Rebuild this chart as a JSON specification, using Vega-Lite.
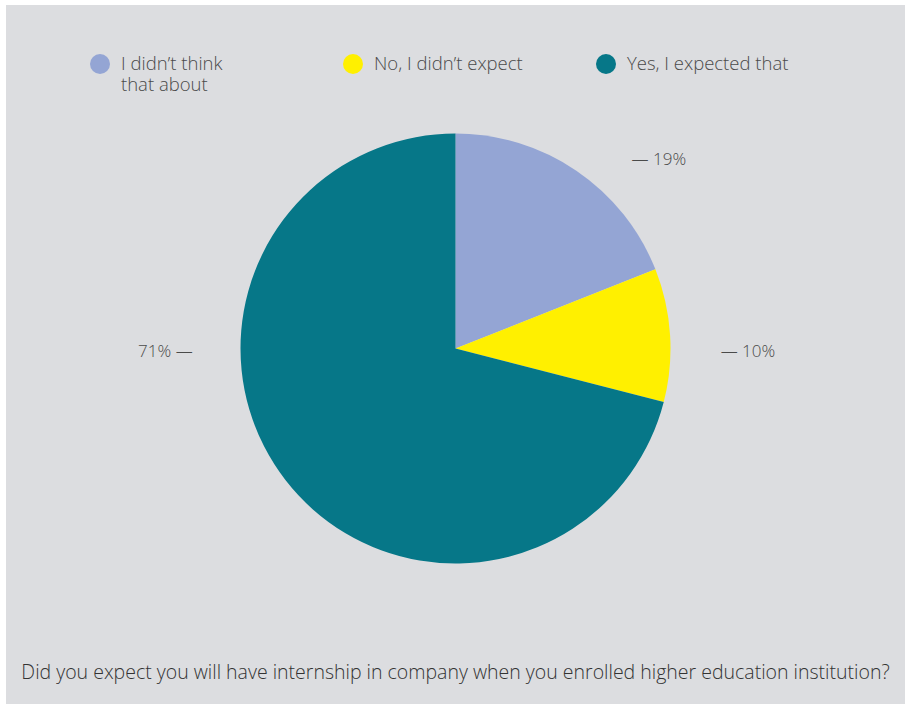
{
  "$schema": "https://vega.github.io/schema/vega-lite/v6.json",
  "autosize": {"type": "fit", "contains": "padding"},
  "width": 907,
  "height": 708,
  "padding": {"left": 6, "top": 5, "right": 2, "bottom": 4},
  "background": "#ffffff",
  "view": {"fill": "#dcdde0", "stroke": null},
  "config": {
    "view": {"fill": "#dcdde0", "stroke": null},
    "font": "Open Sans"
  },
  "title": {
    "text": "Did you expect you will have internship in company when you enrolled higher education institution?",
    "orient": "bottom",
    "anchor": "middle",
    "offset": -40,
    "fontSize": 19.5,
    "fontWeight": 300,
    "color": "#333333",
    "font": "Open Sans"
  },
  "data": {
    "values": [
      {"answer": "I didn't think that about", "share": 19},
      {"answer": "No, I didn't expect", "share": 10},
      {"answer": "Yes, I expected that", "share": 71}
    ]
  },
  "encoding": {
    "theta": {"field": "share", "type": "quantitative", "stack": true},
    "color": {
      "field": "answer",
      "type": "nominal",
      "scale": {
        "domain": ["I didn't think that about", "No, I didn't expect", "Yes, I expected that"],
        "range": ["#94a5d4", "#fff000", "#067788"]
      },
      "legend": {
        "orient": "none",
        "legendX": 84,
        "legendY": 49,
        "direction": "horizontal",
        "columns": 3,
        "gridAlign": "all",
        "columnPadding": 60,
        "title": null,
        "symbolType": "circle",
        "symbolSize": 400,
        "symbolStrokeWidth": 0,
        "symbolOpacity": 1,
        "labelFontSize": 18.5,
        "labelFont": "Open Sans",
        "labelFontWeight": 300,
        "labelColor": "#4a4a4a",
        "labelOffset": 11,
        "labelLimit": 300,
        "labelExpr": "datum.label == \"I didn't think that about\" ? [\"I didn’t think\", \"that about\"] : [replace(datum.label, \"'\", \"’\"), \" \"]"
      }
    }
  },
  "layer": [
    {
      "mark": {"type": "arc", "outerRadius": 215, "yOffset": -6, "stroke": null}
    },
    {
      "mark": {"type": "text", "clip": true, "radius": 280, "dx": 46, "dy": 37, "fontSize": 17, "fontWeight": 300, "font": "Open Sans"},
      "encoding": {
        "color": {"value": "#4a4a4a"},
        "text": {"condition": {"test": "datum.answer == \"I didn't think that about\"", "value": "— 19%"}, "value": ""}
      }
    },
    {
      "mark": {"type": "text", "clip": true, "radius": 290, "dx": 3, "dy": 16, "fontSize": 17, "fontWeight": 300, "font": "Open Sans"},
      "encoding": {
        "color": {"value": "#4a4a4a"},
        "text": {"condition": {"test": "datum.answer == \"No, I didn't expect\"", "value": "— 10%"}, "value": ""}
      }
    },
    {
      "mark": {"type": "text", "clip": true, "radius": 290, "dx": -61, "dy": -180, "fontSize": 17, "fontWeight": 300, "font": "Open Sans"},
      "encoding": {
        "color": {"value": "#4a4a4a"},
        "text": {"condition": {"test": "datum.answer == \"Yes, I expected that\"", "value": "71% —"}, "value": ""}
      }
    }
  ]
}
